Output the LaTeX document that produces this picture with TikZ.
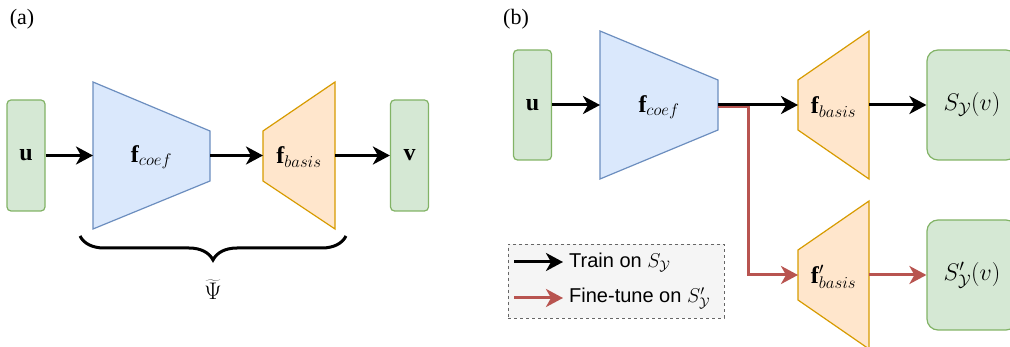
\documentclass[tikz,border=0pt]{standalone}
\usepackage{fix-cm}
\usepackage{fontspec}
\setmainfont{Liberation Serif}
\newfontfamily\legendfont{Liberation Sans}
\usetikzlibrary{arrows.meta,decorations.pathreplacing}
\definecolor{gfill}{HTML}{D5E8D4}
\definecolor{gstroke}{HTML}{82B366}
\definecolor{bfill}{HTML}{DAE8FC}
\definecolor{bstroke}{HTML}{6C8EBF}
\definecolor{ofill}{HTML}{FFE6CC}
\definecolor{ostroke}{HTML}{D79B00}
\definecolor{redline}{HTML}{B85450}
\definecolor{legfill}{HTML}{F5F5F5}
\definecolor{legstroke}{HTML}{666666}
\begin{document}
\begin{tikzpicture}[x=1pt,y=-1pt,font=\fontsize{20}{24}\selectfont,
  greenbox/.style={draw=gstroke,fill=gfill,line width=1.2pt,rounded corners=4pt,minimum width=38pt,minimum height=111pt,inner sep=0pt},
  bigbox/.style={draw=gstroke,fill=gfill,line width=1.2pt,rounded corners=11pt,minimum width=90pt,minimum height=110pt,inner sep=0pt},
  coefshape/.style={draw=bstroke,fill=bfill,line width=1.2pt},
  basisshape/.style={draw=ostroke,fill=ofill,line width=1.2pt},
  arr/.style={line width=3pt,-{Stealth[length=17pt,width=18pt,inset=5pt]}},
  redarr/.style={arr,draw=redline,color=redline},
  lbl/.style={inner sep=0pt},
  mathlbl/.style={inner sep=0pt,font=\fontsize{24}{28}\selectfont},
  legendbox/.style={draw=legstroke,fill=legfill,dashed,line width=0.9pt,minimum width=216pt,minimum height=74pt,inner sep=0pt}
]
\useasboundingbox (0,0) rectangle (1010,347);

% ---------------- panel (a)
\node[lbl,font=\fontsize{22}{26}\selectfont] (la) at (22,19) {(a)};
\node[greenbox,mathlbl] (ua) at (26,155.5) {$\mathbf{u}$};
\node[greenbox,mathlbl] (va) at (409.5,155.5) {$\mathbf{v}$};
\path[coefshape] (93,82) -- (210,131) -- (210,181) -- (93,229) -- cycle;
\path[basisshape] (263,131) -- (335,82) -- (335,229) -- (263,181) -- cycle;
\node[mathlbl] (fca) at (151.5,157) {$\mathbf{f}_{coef}$};
\node[mathlbl] (fba) at (299,157) {$\mathbf{f}_{basis}$};
\coordinate (fca-in) at (93,155.5);
\coordinate (fca-out) at (210,155.5);
\coordinate (fba-in) at (263,155.5);
\coordinate (fba-out) at (335,155.5);
\draw[arr] (ua.east) -- (fca-in);
\draw[arr] (fca-out) -- (fba-in);
\draw[arr] (fba-out) -- (va.west);
\coordinate (brL) at (80,236);
\coordinate (brR) at (346,236);
\draw[line width=3pt,decorate,decoration={brace,mirror,amplitude=24pt}] (brL) -- (brR);
\node[mathlbl] (psi) at (213,290) {$\widetilde{\Psi}$};

% ---------------- panel (b)
\node[lbl,font=\fontsize{22}{26}\selectfont] (lb) at (516,19) {(b)};
\node[greenbox,mathlbl,minimum height=110pt] (ub) at (532.5,105) {$\mathbf{u}$};
\path[coefshape] (600,31) -- (718,80) -- (718,130) -- (600,179) -- cycle;
\path[basisshape] (798,80) -- (869,31) -- (869,179) -- (798,130) -- cycle;
\path[basisshape] (798,250) -- (869,201) -- (869,349) -- (798,300) -- cycle;
\node[mathlbl] (fcb) at (659,107) {$\mathbf{f}_{coef}$};
\node[mathlbl] (fbb) at (833.5,107) {$\mathbf{f}_{basis}$};
\node[mathlbl] (fbp) at (833.5,277) {$\mathbf{f}'_{basis}$};
\node[bigbox,mathlbl] (sy) at (972,105) {$S_{\mathcal{Y}}(v)$};
\node[bigbox,mathlbl] (syp) at (972,275) {$S'_{\mathcal{Y}}(v)$};
\coordinate (fcb-in) at (600,105);
\coordinate (fcb-out) at (718,105);
\coordinate (fcb-outr) at (718,106.5);
\coordinate (fbb-in) at (798,105);
\coordinate (fbb-out) at (869,105);
\coordinate (fbp-in) at (798,275);
\coordinate (fbp-out) at (869,275);
\coordinate (bend) at (748,106.5);
\draw[arr] (ub.east) -- (fcb-in);
\draw[redarr] (fcb-outr) -- (bend) |- (fbp-in);
\draw[arr] (fcb-out) -- (fbb-in);
\draw[arr] (fbb-out) -- (sy.west);
\draw[redarr] (fbp-out) -- (syp.west);

% legend
\node[legendbox] (leg) at (616,281) {};
\coordinate (l1s) at (514,262);
\coordinate (l1e) at (563,262);
\coordinate (l2s) at (514,298);
\coordinate (l2e) at (563,298);
\draw[arr] (l1s) -- (l1e);
\draw[redarr] (l2s) -- (l2e);
\node[lbl,anchor=west] (t1) at (569,262) {\legendfont Train on $S_{\mathcal{Y}}$};
\node[lbl,anchor=west] (t2) at (569,298) {\legendfont Fine-tune on $S'_{\mathcal{Y}}$};
\end{tikzpicture}
\end{document}
